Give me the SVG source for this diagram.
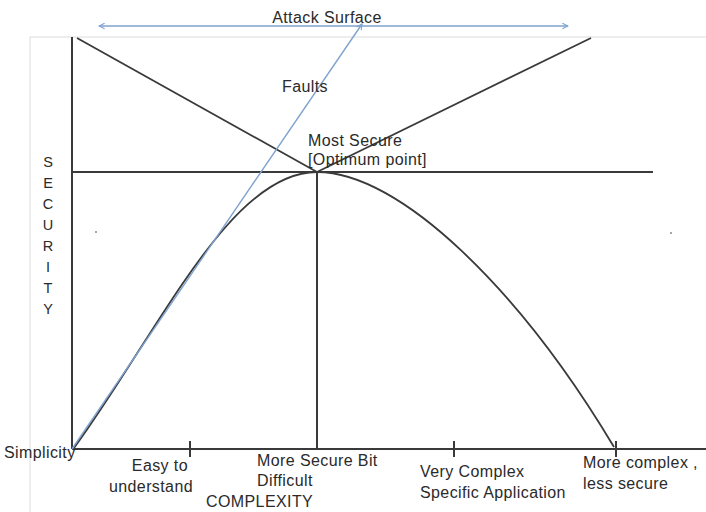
<svg xmlns="http://www.w3.org/2000/svg" width="706" height="512" viewBox="0 0 706 512">
  <defs>
    <marker id="openArrow" viewBox="0 0 10 10" refX="9" refY="5" markerWidth="7" markerHeight="7" orient="auto-start-reverse" markerUnits="userSpaceOnUse">
      <path d="M1,1 L9,5 L1,9" fill="none" stroke="#7fa2cf" stroke-width="1.5"/>
    </marker>
    <style>
      .txt { font-family: "Liberation Sans", Arial, sans-serif; font-size: 16px; letter-spacing: 0.4px; fill: #2a2a2a; }
      .vert { font-size: 14.5px; letter-spacing: 0; }
      .axis { stroke: #3a3a3a; stroke-width: 2; fill: none; }
      .line { stroke: #3a3a3a; stroke-width: 1.8; fill: none; }
      .blue { stroke: #7fa2cf; stroke-width: 1.4; fill: none; }
      .frame { stroke: #dcdcdc; stroke-width: 1; fill: none; }
    </style>
  </defs>
  <rect width="706" height="512" fill="#ffffff"/>

  <!-- plot frame -->
  <path class="frame" d="M30,512 V37 H706"/>

  <!-- connectors: axes, guides, curve and arrows -->
  <g id="connectors">
    <line class="axis" x1="72" y1="37" x2="72" y2="449"/>
    <line class="axis" x1="72" y1="449" x2="706" y2="449"/>
    <line class="axis" x1="190" y1="441" x2="190" y2="457"/>
    <line class="axis" x1="454" y1="441" x2="454" y2="457"/>
    <line class="axis" x1="616" y1="441" x2="616" y2="457"/>
    <line class="axis" x1="72" y1="172" x2="653" y2="172"/>
    <line class="axis" x1="317" y1="172" x2="317" y2="449"/>
    <line class="line" x1="77" y1="38" x2="317" y2="172"/>
    <line class="line" x1="317" y1="172" x2="591" y2="38"/>
    <path class="line" d="M74,448 C160,330 230,172 317,172 C400,172 520,290 614,447"/>
    <line class="blue" x1="72" y1="449" x2="362" y2="24" marker-end="url(#openArrow)"/>
    <line class="blue" x1="99" y1="26" x2="568" y2="26" marker-start="url(#openArrow)" marker-end="url(#openArrow)"/>
  </g>

  <g id="attack-surface"><text class="txt" x="327" y="23" text-anchor="middle">Attack Surface</text></g>
  <g id="faults"><text class="txt" x="305" y="92" text-anchor="middle">Faults</text></g>
  <g id="most-secure">
    <text class="txt" x="308" y="146">Most Secure</text>
    <text class="txt" x="308" y="165">[Optimum point]</text>
  </g>
  <g id="security-axis-label">
    <text class="txt vert" x="48" y="167" text-anchor="middle">S</text>
    <text class="txt vert" x="48" y="188" text-anchor="middle">E</text>
    <text class="txt vert" x="48" y="209" text-anchor="middle">C</text>
    <text class="txt vert" x="48" y="230" text-anchor="middle">U</text>
    <text class="txt vert" x="48" y="251" text-anchor="middle">R</text>
    <text class="txt vert" x="48" y="272" text-anchor="middle">I</text>
    <text class="txt vert" x="48" y="293" text-anchor="middle">T</text>
    <text class="txt vert" x="48" y="314" text-anchor="middle">Y</text>
  </g>
  <g id="simplicity"><text class="txt" x="4" y="458">Simplicity</text></g>
  <g id="easy">
    <text class="txt" x="188" y="471" text-anchor="end">Easy to</text>
    <text class="txt" x="193" y="492" text-anchor="end">understand</text>
  </g>
  <g id="more-secure-bit">
    <text class="txt" x="257" y="466">More Secure Bit</text>
    <text class="txt" x="257" y="486">Difficult</text>
  </g>
  <g id="complexity"><text class="txt" x="206" y="507">COMPLEXITY</text></g>
  <g id="very-complex">
    <text class="txt" x="420" y="477">Very Complex</text>
    <text class="txt" x="420" y="498">Specific Application</text>
  </g>
  <g id="more-complex">
    <text class="txt" x="583" y="468">More complex ,</text>
    <text class="txt" x="583" y="489">less secure</text>
  </g>

  <!-- stray marks -->
  <circle cx="96" cy="232" r="1" fill="#888"/>
  <circle cx="671" cy="233" r="1" fill="#888"/>
</svg>
